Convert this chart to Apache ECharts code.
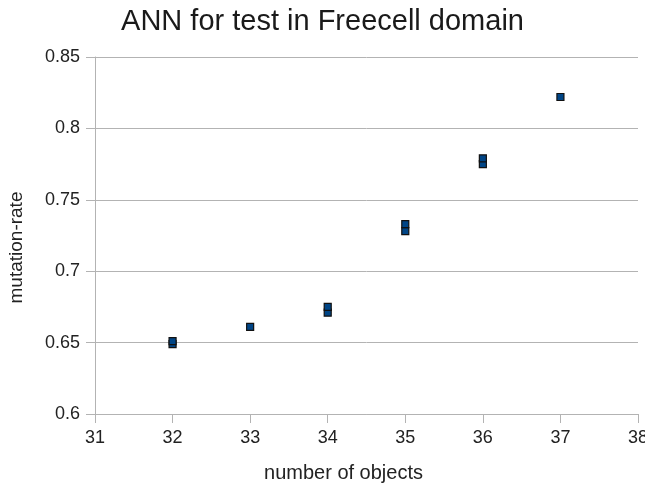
<!DOCTYPE html>
<html>
<head>
<meta charset="utf-8">
<script src="https://cdn.jsdelivr.net/npm/echarts@6/dist/echarts.min.js"></script>
<style>
  html, body { margin: 0; padding: 0; background: #fff; }
  #main { width: 645px; height: 484px; }
</style>
</head>
<body>
<div id="main"></div>
<script>
  // number of objects / mutation-rate pairs
  var objects = [32, 32, 33, 34, 34, 35, 35, 36, 36, 37];
  var rates = [0.649, 0.651, 0.661, 0.671, 0.675, 0.728, 0.733, 0.775, 0.779, 0.822];

  var points = objects.map(function (x, i) {
    return [x, rates[i]];
  });

  var myChart = echarts.init(document.getElementById('main'));
  var option = {
    backgroundColor: '#fff',
    title: {
      text: 'ANN for test in Freecell domain',
      left: 'center',
      top: 2,
      textStyle: {
        fontFamily: 'Liberation Sans',
        fontSize: 29,
        fontWeight: 'normal',
        color: '#1a1a1a'
      }
    },
    grid: {
      left: 95,
      right: 7,
      top: 57,
      bottom: 70,
      outerBoundsMode: 'none'
    },
    xAxis: {
      type: 'value',
      min: 31,
      max: 38,
      interval: 1,
      name: 'number of objects',
      nameLocation: 'middle',
      nameGap: 49,
      // name sits a bit left of the axis middle in the original
      nameTextStyle: { fontFamily: 'Liberation Sans', fontSize: 20, color: '#222', padding: [0, 46, 0, 0] },
      axisLine: { show: true, lineStyle: { color: '#b3b3b3' } },
      axisTick: { show: true, inside: false, length: 9, lineStyle: { color: '#b3b3b3' } },
      axisLabel: { fontFamily: 'Liberation Sans', fontSize: 18, color: '#222', margin: 15 },
      splitLine: { show: false }
    },
    yAxis: {
      type: 'value',
      min: 0.6,
      max: 0.85,
      interval: 0.05,
      name: 'mutation-rate',
      nameLocation: 'middle',
      nameGap: 69,
      nameTextStyle: { fontFamily: 'Liberation Sans', fontSize: 19, color: '#222', padding: [0, 24, 0, 0] },
      axisLine: { show: true, lineStyle: { color: '#b3b3b3' } },
      axisTick: { show: true, inside: false, length: 9, lineStyle: { color: '#b3b3b3' } },
      axisLabel: { fontFamily: 'Liberation Sans', fontSize: 18, color: '#222', margin: 15 },
      splitLine: { show: true, lineStyle: { color: '#b3b3b3' } }
    },
    series: [{
      type: 'scatter',
      symbol: 'rect',
      symbolSize: 7,
      data: points,
      itemStyle: {
        color: '#004586',
        borderColor: '#111',
        borderWidth: 1.2,
        opacity: 1
      }
    }]
  };
  myChart.setOption(option);
  window.addEventListener("resize", () => { myChart.resize(); });
</script>
</body>
</html>
